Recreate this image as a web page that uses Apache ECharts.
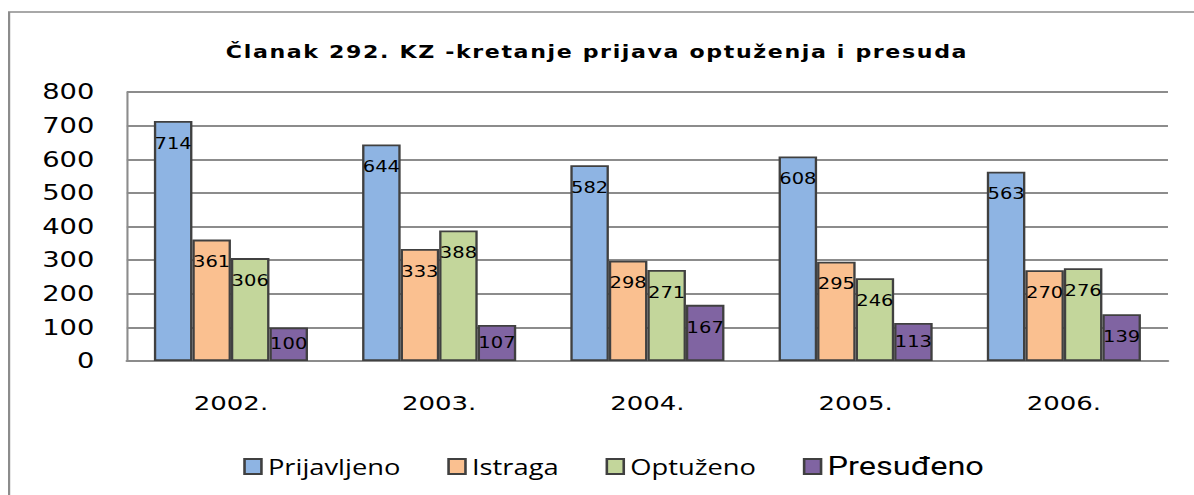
<!DOCTYPE html>
<html><head><meta charset="utf-8">
<script src="https://cdn.jsdelivr.net/npm/echarts@6/dist/echarts.min.js"></script>
<style>
html,body{margin:0;padding:0;background:#fff;overflow:hidden;width:1194px;height:495px}
/* the original picture is stretched horizontally; reproduce that stretch */
#c{width:918px;height:495px;transform:scaleX(1.30065);transform-origin:0 0}
#c text[style*="bold"]{letter-spacing:1.25px}
</style>
</head><body><div id="c"></div>
<script>
const titleText = 'Članak 292. KZ -kretanje prijava optuženja i presuda';
const categories = ['2002.', '2003.', '2004.', '2005.', '2006.'];
const seriesNames = ['Prijavljeno', 'Istraga', 'Optuženo', 'Presuđeno'];
const prijavljeno = [714, 644, 582, 608, 563];
const istraga = [361, 333, 298, 295, 270];
const optuzeno = [306, 388, 271, 246, 276];
const presudeno = [100, 107, 167, 113, 139];
const yMin = 0, yMax = 800, yStep = 100;

const colors = ['#8EB4E3', '#FAC090', '#C3D69B', '#8064A2'];
const values = [prijavljeno, istraga, optuzeno, presudeno];
const F = 'DejaVu Sans, Verdana, sans-serif';
const L = 'Open Sans, sans-serif';

const chart = echarts.init(document.getElementById('c'), null, {renderer: 'svg'});
chart.setOption({
  animation: false,
  backgroundColor: '#fff',
  title: {
    text: titleText, left: 'center', top: 39,
    textStyle: {fontFamily: F, fontWeight: 'bold', fontSize: 17, color: '#000'}
  },
  graphic: [{
    type: 'rect', shape: {x: 7, y: 12, width: 940, height: 520},
    style: {fill: 'none', stroke: '#8c8c8c', lineWidth: 1.7}, silent: true, z: -1
  }],
  legend: {
    top: 449, left: 182, itemWidth: 13, itemHeight: 15, itemGap: 36,
    icon: 'rect',
    textStyle: {fontFamily: L, fontSize: 21, color: '#000'},
    data: seriesNames.map((n, i) => i === 3
      ? {name: n, textStyle: {fontFamily: 'Roboto, sans-serif', fontSize: 25}}
      : {name: n})
  },
  grid: {left: 97.5, right: 20, top: 92, bottom: 134},
  xAxis: {
    type: 'category', data: categories,
    axisLine: {show: true, lineStyle: {color: '#8c8c8c', width: 2}},
    axisTick: {show: false},
    axisLabel: {fontFamily: F, fontSize: 20, color: '#000', margin: 32}
  },
  yAxis: {
    type: 'value', min: yMin, max: yMax, interval: yStep,
    axisLine: {show: true, lineStyle: {color: '#8c8c8c', width: 1.6}},
    axisTick: {show: false},
    splitLine: {lineStyle: {color: '#8c8c8c', width: 2}},
    axisLabel: {fontFamily: F, fontSize: 21, color: '#000', margin: 25}
  },
  series: seriesNames.map((n, i) => ({
    name: n, type: 'bar',
    data: values[i].map(v => v < 125 ? {value: v, label: {position: 'inside'}} : v),
    barWidth: '18.5%', barGap: '0%',
    itemStyle: {color: colors[i], borderColor: '#404040', borderWidth: 1.8},
    label: {
      show: true, position: 'insideTop', distance: 15,
      fontFamily: F, fontSize: 15, color: '#000'
    }
  }))
});
</script>
</body></html>
